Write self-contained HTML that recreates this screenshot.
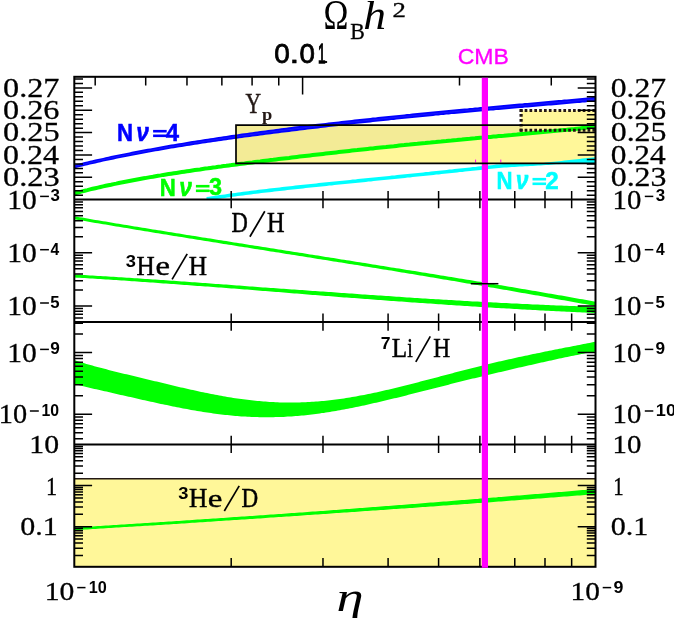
<!DOCTYPE html>
<html><head><meta charset="utf-8"><title>BBN abundances</title>
<style>html,body{margin:0;padding:0;background:#fff}body{width:674px;height:618px;overflow:hidden;font-family:"Liberation Sans",sans-serif}</style>
</head><body>
<svg width="674" height="618" viewBox="0 0 674 618" style="display:block;will-change:transform">
<rect x="0" y="0" width="674" height="618" fill="#fff"/>
<rect x="236.0" y="125.2" width="359.5" height="38.10000000000001" fill="#fff799"/>
<polygon points="236.0,125.2 236.0,164.5 236.7,164.4 239.3,164.0 241.9,163.7 244.5,163.4 247.2,163.0 249.8,162.7 252.4,162.4 255.0,162.0 257.6,161.7 260.3,161.4 262.9,161.0 265.5,160.7 268.1,160.4 270.7,160.1 273.4,159.8 276.0,159.4 278.6,159.1 281.2,158.8 283.8,158.5 286.4,158.2 289.1,157.9 291.7,157.5 294.3,157.2 296.9,156.9 299.5,156.6 302.2,156.3 304.8,156.0 307.4,155.7 310.0,155.4 312.6,155.1 315.3,154.8 317.9,154.5 320.5,154.2 323.1,153.9 325.7,153.6 328.4,153.3 331.0,153.0 333.6,152.7 336.2,152.4 338.8,152.1 341.4,151.8 344.1,151.5 346.7,151.2 349.3,150.9 351.9,150.6 354.5,150.3 357.2,150.1 359.8,149.8 362.4,149.5 365.0,149.2 367.6,148.9 370.3,148.6 372.9,148.4 375.5,148.1 378.1,147.8 380.7,147.5 383.4,147.2 386.0,147.0 388.6,146.7 391.2,146.4 393.8,146.2 396.4,145.9 399.1,145.6 401.7,145.3 404.3,145.1 406.9,144.8 409.5,144.6 412.2,144.3 414.8,144.0 417.4,143.8 420.0,143.5 422.6,143.2 425.3,143.0 427.9,142.7 430.5,142.5 433.1,142.2 435.7,142.0 438.4,141.7 441.0,141.5 443.6,141.2 446.2,141.0 448.8,140.7 451.4,140.5 454.1,140.2 456.7,140.0 459.3,139.7 461.9,139.5 464.5,139.2 467.2,139.0 469.8,138.8 472.4,138.5 475.0,138.3 477.6,138.0 480.3,137.8 482.9,137.6 485.5,137.3 488.1,137.1 490.7,136.9 493.4,136.6 496.0,136.4 498.6,136.1 501.2,135.9 503.8,135.7 506.5,135.4 509.1,135.2 511.7,135.0 514.3,134.7 516.9,134.5 519.5,134.2 522.2,134.0 524.8,133.8 527.4,133.5 530.0,133.3 532.6,133.1 535.3,132.8 537.9,132.6 540.5,132.3 543.1,132.1 545.7,131.8 548.4,131.6 551.0,131.3 553.6,131.1 556.2,130.8 558.8,130.6 561.5,130.3 564.1,130.0 566.7,129.8 569.3,129.5 571.9,129.2 574.5,129.0 577.2,128.7 579.8,128.4 582.4,128.1 585.0,127.8 587.6,127.5 590.3,127.3 592.9,127.0 595.5,126.6 595.5,125.2" fill="#f3eb96"/>
<rect x="521.3" y="110.5" width="74.20000000000005" height="19.5" fill="#fff799"/>
<rect x="74.3" y="478.8" width="521.2" height="87.99999999999994" fill="#fff799"/>
<polygon points="206.5,197.1 209.1,196.7 211.7,196.3 214.3,195.9 216.9,195.5 219.6,195.1 222.2,194.7 224.8,194.4 227.4,194.0 230.0,193.6 232.6,193.2 235.2,192.9 237.8,192.5 240.4,192.2 243.1,191.8 245.7,191.5 248.3,191.2 250.9,190.8 253.5,190.5 256.1,190.2 258.7,189.8 261.3,189.5 263.9,189.2 266.5,188.9 269.2,188.6 271.8,188.3 274.4,188.0 277.0,187.7 279.6,187.4 282.2,187.1 284.8,186.8 287.4,186.5 290.0,186.2 292.7,185.9 295.3,185.6 297.9,185.3 300.5,185.1 303.1,184.8 305.7,184.5 308.3,184.2 310.9,183.9 313.5,183.7 316.2,183.4 318.8,183.1 321.4,182.8 324.0,182.6 326.6,182.3 329.2,182.0 331.8,181.8 334.4,181.5 337.0,181.2 339.6,181.0 342.3,180.7 344.9,180.4 347.5,180.2 350.1,179.9 352.7,179.6 355.3,179.4 357.9,179.1 360.5,178.8 363.1,178.6 365.8,178.3 368.4,178.0 371.0,177.8 373.6,177.5 376.2,177.2 378.8,177.0 381.4,176.7 384.0,176.4 386.6,176.2 389.3,175.9 391.9,175.6 394.5,175.4 397.1,175.1 399.7,174.8 402.3,174.6 404.9,174.3 407.5,174.0 410.1,173.8 412.7,173.5 415.4,173.2 418.0,172.9 420.6,172.7 423.2,172.4 425.8,172.1 428.4,171.9 431.0,171.6 433.6,171.3 436.2,171.0 438.9,170.8 441.5,170.5 444.1,170.2 446.7,169.9 449.3,169.6 451.9,169.4 454.5,169.1 457.1,168.8 459.7,168.5 462.4,168.3 465.0,168.0 467.6,167.7 470.2,167.4 472.8,167.1 475.4,166.9 478.0,166.6 480.6,166.3 483.2,166.0 485.8,165.8 488.5,165.5 491.1,165.2 493.7,164.9 496.3,164.6 498.9,164.4 501.5,164.2 504.1,164.1 506.7,164.1 509.3,164.0 512.0,163.9 514.6,163.8 517.2,163.7 519.8,163.7 522.4,163.6 525.0,163.5 527.6,163.4 530.2,163.4 532.8,163.3 535.5,163.2 538.1,163.1 540.7,163.0 543.3,162.9 545.9,162.6 548.5,162.3 551.1,162.0 553.7,161.7 556.3,161.4 558.9,161.2 561.6,160.9 564.2,160.6 566.8,160.3 569.4,160.0 572.0,159.7 574.6,159.5 577.2,159.2 579.8,158.9 582.4,158.6 585.1,158.3 587.7,158.0 590.3,157.8 592.9,157.5 595.5,157.2 595.5,163.4 592.9,163.4 590.3,163.5 587.7,163.5 585.1,163.6 582.4,163.6 579.8,163.6 577.2,163.7 574.6,163.7 572.0,163.8 569.4,163.9 566.8,164.0 564.2,164.1 561.6,164.1 558.9,164.2 556.3,164.3 553.7,164.5 551.1,164.7 548.5,164.9 545.9,165.0 543.3,165.2 540.7,165.4 538.1,165.5 535.5,165.7 532.8,165.9 530.2,166.0 527.6,166.2 525.0,166.3 522.4,166.5 519.8,166.6 517.2,166.8 514.6,167.0 512.0,167.1 509.3,167.3 506.7,167.4 504.1,167.6 501.5,167.8 498.9,168.0 496.3,168.2 493.7,168.5 491.1,168.8 488.5,169.1 485.8,169.4 483.2,169.6 480.6,169.9 478.0,170.2 475.4,170.5 472.8,170.7 470.2,171.0 467.6,171.3 465.0,171.6 462.4,171.9 459.7,172.1 457.1,172.4 454.5,172.7 451.9,173.0 449.3,173.2 446.7,173.5 444.1,173.8 441.5,174.1 438.9,174.4 436.2,174.6 433.6,174.9 431.0,175.2 428.4,175.5 425.8,175.7 423.2,176.0 420.6,176.3 418.0,176.5 415.4,176.8 412.7,177.1 410.1,177.4 407.5,177.6 404.9,177.9 402.3,178.2 399.7,178.4 397.1,178.7 394.5,179.0 391.9,179.2 389.3,179.5 386.6,179.8 384.0,180.0 381.4,180.3 378.8,180.6 376.2,180.8 373.6,181.1 371.0,181.4 368.4,181.6 365.8,181.9 363.1,182.2 360.5,182.4 357.9,182.7 355.3,183.0 352.7,183.2 350.1,183.5 347.5,183.8 344.9,184.0 342.3,184.3 339.6,184.6 337.0,184.8 334.4,185.1 331.8,185.4 329.2,185.6 326.6,185.9 324.0,186.2 321.4,186.4 318.8,186.7 316.2,187.0 313.5,187.3 310.9,187.5 308.3,187.8 305.7,188.1 303.1,188.4 300.5,188.7 297.9,188.9 295.3,189.2 292.7,189.5 290.0,189.8 287.4,190.1 284.8,190.4 282.2,190.7 279.6,191.0 277.0,191.3 274.4,191.6 271.8,191.9 269.2,192.2 266.5,192.5 263.9,192.8 261.3,193.1 258.7,193.4 256.1,193.8 253.5,194.1 250.9,194.4 248.3,194.8 245.7,195.1 243.1,195.4 240.4,195.8 237.8,196.1 235.2,196.5 232.6,196.8 230.0,197.2 227.4,197.6 224.8,198.0 222.2,198.3 219.6,198.7 216.9,199.1 214.3,199.5 211.7,199.6 209.1,199.6 206.5,199.6" fill="#00ffff"/>
<path d="M74.3,193.5 L76.9,192.8 L79.5,192.1 L82.2,191.4 L84.8,190.7 L87.4,190.1 L90.0,189.4 L92.6,188.8 L95.3,188.2 L97.9,187.6 L100.5,187.0 L103.1,186.4 L105.7,185.8 L108.3,185.2 L111.0,184.7 L113.6,184.1 L116.2,183.6 L118.8,183.0 L121.4,182.5 L124.1,182.0 L126.7,181.5 L129.3,181.0 L131.9,180.5 L134.5,180.0 L137.2,179.5 L139.8,179.0 L142.4,178.5 L145.0,178.1 L147.6,177.6 L150.3,177.1 L152.9,176.7 L155.5,176.2 L158.1,175.8 L160.7,175.4 L163.3,174.9 L166.0,174.5 L168.6,174.1 L171.2,173.7 L173.8,173.3 L176.4,172.9 L179.1,172.5 L181.7,172.1 L184.3,171.7 L186.9,171.3 L189.5,170.9 L192.2,170.5 L194.8,170.1 L197.4,169.7 L200.0,169.4 L202.6,169.0 L205.3,168.6 L207.9,168.3 L210.5,167.9 L213.1,167.5 L215.7,167.2 L218.4,166.8 L221.0,166.5 L223.6,166.1 L226.2,165.8 L228.8,165.4 L231.4,165.1 L234.1,164.7 L236.7,164.4 L239.3,164.0 L241.9,163.7 L244.5,163.4 L247.2,163.0 L249.8,162.7 L252.4,162.4 L255.0,162.0 L257.6,161.7 L260.3,161.4 L262.9,161.0 L265.5,160.7 L268.1,160.4 L270.7,160.1 L273.4,159.8 L276.0,159.4 L278.6,159.1 L281.2,158.8 L283.8,158.5 L286.4,158.2 L289.1,157.9 L291.7,157.5 L294.3,157.2 L296.9,156.9 L299.5,156.6 L302.2,156.3 L304.8,156.0 L307.4,155.7 L310.0,155.4 L312.6,155.1 L315.3,154.8 L317.9,154.5 L320.5,154.2 L323.1,153.9 L325.7,153.6 L328.4,153.3 L331.0,153.0 L333.6,152.7 L336.2,152.4 L338.8,152.1 L341.4,151.8 L344.1,151.5 L346.7,151.2 L349.3,150.9 L351.9,150.6 L354.5,150.3 L357.2,150.1 L359.8,149.8 L362.4,149.5 L365.0,149.2 L367.6,148.9 L370.3,148.6 L372.9,148.4 L375.5,148.1 L378.1,147.8 L380.7,147.5 L383.4,147.2 L386.0,147.0 L388.6,146.7 L391.2,146.4 L393.8,146.2 L396.4,145.9 L399.1,145.6 L401.7,145.3 L404.3,145.1 L406.9,144.8 L409.5,144.6 L412.2,144.3 L414.8,144.0 L417.4,143.8 L420.0,143.5 L422.6,143.2 L425.3,143.0 L427.9,142.7 L430.5,142.5 L433.1,142.2 L435.7,142.0 L438.4,141.7 L441.0,141.5 L443.6,141.2 L446.2,141.0 L448.8,140.7 L451.4,140.5 L454.1,140.2 L456.7,140.0 L459.3,139.7 L461.9,139.5 L464.5,139.2 L467.2,139.0 L469.8,138.8 L472.4,138.5 L475.0,138.3 L477.6,138.0 L480.3,137.8 L482.9,137.6 L485.5,137.3 L488.1,137.1 L490.7,136.9 L493.4,136.6 L496.0,136.4 L498.6,136.1 L501.2,135.9 L503.8,135.7 L506.5,135.4 L509.1,135.2 L511.7,135.0 L514.3,134.7 L516.9,134.5 L519.5,134.2 L522.2,134.0 L524.8,133.8 L527.4,133.5 L530.0,133.3 L532.6,133.1 L535.3,132.8 L537.9,132.6 L540.5,132.3 L543.1,132.1 L545.7,131.8 L548.4,131.6 L551.0,131.3 L553.6,131.1 L556.2,130.8 L558.8,130.6 L561.5,130.3 L564.1,130.0 L566.7,129.8 L569.3,129.5 L571.9,129.2 L574.5,129.0 L577.2,128.7 L579.8,128.4 L582.4,128.1 L585.0,127.8 L587.6,127.5 L590.3,127.3 L592.9,127.0 L595.5,126.6" fill="none" stroke="#00ff00" stroke-width="4.0"/>
<polygon points="74.3,164.7 76.9,164.0 79.5,163.4 82.2,162.7 84.8,162.1 87.4,161.5 90.0,160.8 92.6,160.2 95.3,159.6 97.9,159.0 100.5,158.4 103.1,157.9 105.7,157.3 108.3,156.7 111.0,156.1 113.6,155.6 116.2,155.0 118.8,154.5 121.4,153.9 124.1,153.4 126.7,152.9 129.3,152.4 131.9,151.8 134.5,151.3 137.2,150.8 139.8,150.3 142.4,149.8 145.0,149.3 147.6,148.8 150.3,148.4 152.9,147.9 155.5,147.4 158.1,146.9 160.7,146.5 163.3,146.0 166.0,145.5 168.6,145.1 171.2,144.6 173.8,144.2 176.4,143.7 179.1,143.3 181.7,142.9 184.3,142.4 186.9,142.0 189.5,141.6 192.2,141.1 194.8,140.7 197.4,140.3 200.0,139.9 202.6,139.5 205.3,139.1 207.9,138.7 210.5,138.3 213.1,137.9 215.7,137.5 218.4,137.1 221.0,136.7 223.6,136.3 226.2,135.9 228.8,135.5 231.4,135.1 234.1,134.8 236.7,134.4 239.3,134.0 241.9,133.6 244.5,133.3 247.2,132.9 249.8,132.5 252.4,132.2 255.0,131.8 257.6,131.5 260.3,131.1 262.9,130.8 265.5,130.4 268.1,130.1 270.7,129.7 273.4,129.4 276.0,129.0 278.6,128.7 281.2,128.3 283.8,128.0 286.4,127.7 289.1,127.3 291.7,127.0 294.3,126.6 296.9,126.3 299.5,126.0 302.2,125.7 304.8,125.4 307.4,125.0 310.0,124.7 312.6,124.4 315.3,124.1 317.9,123.8 320.5,123.5 323.1,123.2 325.7,122.9 328.4,122.6 331.0,122.3 333.6,122.0 336.2,121.7 338.8,121.4 341.4,121.1 344.1,120.8 346.7,120.5 349.3,120.2 351.9,119.9 354.5,119.6 357.2,119.3 359.8,119.0 362.4,118.8 365.0,118.5 367.6,118.2 370.3,117.9 372.9,117.6 375.5,117.4 378.1,117.1 380.7,116.8 383.4,116.5 386.0,116.3 388.6,116.0 391.2,115.7 393.8,115.4 396.4,115.2 399.1,114.9 401.7,114.7 404.3,114.4 406.9,114.1 409.5,113.9 412.2,113.6 414.8,113.3 417.4,113.1 420.0,112.8 422.6,112.6 425.3,112.3 427.9,112.1 430.5,111.8 433.1,111.6 435.7,111.3 438.4,111.1 441.0,110.8 443.6,110.6 446.2,110.3 448.8,110.1 451.4,109.8 454.1,109.6 456.7,109.3 459.3,109.1 461.9,108.8 464.5,108.6 467.2,108.4 469.8,108.1 472.4,107.9 475.0,107.6 477.6,107.4 480.3,107.1 482.9,106.9 485.5,106.7 488.1,106.4 490.7,106.2 493.4,105.9 496.0,105.7 498.6,105.5 501.2,105.2 503.8,105.0 506.5,104.8 509.1,104.5 511.7,104.3 514.3,104.1 516.9,103.8 519.5,103.6 522.2,103.4 524.8,103.1 527.4,102.9 530.0,102.7 532.6,102.4 535.3,102.2 537.9,102.0 540.5,101.7 543.1,101.5 545.7,101.3 548.4,101.0 551.0,100.8 553.6,100.6 556.2,100.3 558.8,100.1 561.5,99.9 564.1,99.6 566.7,99.4 569.3,99.2 571.9,98.9 574.5,98.7 577.2,98.4 579.8,98.2 582.4,98.0 585.0,97.7 587.6,97.5 590.3,97.2 592.9,97.0 595.5,96.7 595.5,101.4 592.9,101.7 590.3,101.9 587.6,102.1 585.0,102.4 582.4,102.6 579.8,102.9 577.2,103.1 574.5,103.3 571.9,103.6 569.3,103.8 566.7,104.0 564.1,104.2 561.5,104.5 558.8,104.7 556.2,104.9 553.6,105.2 551.0,105.4 548.4,105.6 545.7,105.8 543.1,106.1 540.5,106.3 537.9,106.5 535.3,106.7 532.6,107.0 530.0,107.2 527.4,107.4 524.8,107.6 522.2,107.9 519.5,108.1 516.9,108.3 514.3,108.5 511.7,108.8 509.1,109.0 506.5,109.2 503.8,109.5 501.2,109.7 498.6,109.9 496.0,110.1 493.4,110.4 490.7,110.6 488.1,110.8 485.5,111.1 482.9,111.3 480.3,111.5 477.6,111.8 475.0,112.0 472.4,112.2 469.8,112.5 467.2,112.7 464.5,112.9 461.9,113.2 459.3,113.4 456.7,113.7 454.1,113.9 451.4,114.1 448.8,114.4 446.2,114.6 443.6,114.9 441.0,115.1 438.4,115.4 435.7,115.6 433.1,115.9 430.5,116.2 427.9,116.4 425.3,116.7 422.6,116.9 420.0,117.2 417.4,117.5 414.8,117.7 412.2,118.0 409.5,118.2 406.9,118.5 404.3,118.8 401.7,119.0 399.1,119.3 396.4,119.6 393.8,119.9 391.2,120.1 388.6,120.4 386.0,120.7 383.4,121.0 380.7,121.2 378.1,121.5 375.5,121.8 372.9,122.1 370.3,122.4 367.6,122.7 365.0,122.9 362.4,123.2 359.8,123.5 357.2,123.8 354.5,124.1 351.9,124.4 349.3,124.7 346.7,125.0 344.1,125.3 341.4,125.6 338.8,125.9 336.2,126.2 333.6,126.5 331.0,126.8 328.4,127.1 325.7,127.4 323.1,127.7 320.5,128.0 317.9,128.4 315.3,128.7 312.6,129.0 310.0,129.3 307.4,129.6 304.8,129.9 302.2,130.3 299.5,130.6 296.9,130.9 294.3,131.2 291.7,131.5 289.1,131.9 286.4,132.2 283.8,132.5 281.2,132.8 278.6,133.2 276.0,133.5 273.4,133.8 270.7,134.2 268.1,134.5 265.5,134.8 262.9,135.2 260.3,135.5 257.6,135.9 255.0,136.2 252.4,136.6 249.8,136.9 247.2,137.3 244.5,137.6 241.9,138.0 239.3,138.3 236.7,138.7 234.1,139.1 231.4,139.4 228.8,139.8 226.2,140.2 223.6,140.5 221.0,140.9 218.4,141.3 215.7,141.7 213.1,142.1 210.5,142.4 207.9,142.8 205.3,143.2 202.6,143.6 200.0,144.0 197.4,144.4 194.8,144.8 192.2,145.2 189.5,145.7 186.9,146.1 184.3,146.5 181.7,146.9 179.1,147.3 176.4,147.8 173.8,148.2 171.2,148.6 168.6,149.1 166.0,149.5 163.3,150.0 160.7,150.4 158.1,150.9 155.5,151.3 152.9,151.8 150.3,152.3 147.6,152.7 145.0,153.2 142.4,153.7 139.8,154.2 137.2,154.7 134.5,155.2 131.9,155.7 129.3,156.2 126.7,156.7 124.1,157.2 121.4,157.8 118.8,158.3 116.2,158.8 113.6,159.4 111.0,159.9 108.3,160.5 105.7,161.1 103.1,161.6 100.5,162.2 97.9,162.8 95.3,163.4 92.6,164.0 90.0,164.6 87.4,165.2 84.8,165.8 82.2,166.5 79.5,167.1 76.9,167.7 74.3,168.4" fill="#0000ff"/>
<path d="M74.3,166.5 L76.9,165.9 L79.5,165.2 L82.2,164.6 L84.8,164.0 L87.4,163.3 L90.0,162.7 L92.6,162.1 L95.3,161.5 L97.9,160.9 L100.5,160.3 L103.1,159.7 L105.7,159.2 L108.3,158.6 L111.0,158.0 L113.6,157.5 L116.2,156.9 L118.8,156.4 L121.4,155.9 L124.1,155.3 L126.7,154.8 L129.3,154.3 L131.9,153.8 L134.5,153.3 L137.2,152.8 L139.8,152.3 L142.4,151.8 L145.0,151.3 L147.6,150.8 L150.3,150.3 L152.9,149.8 L155.5,149.4 L158.1,148.9 L160.7,148.4 L163.3,148.0 L166.0,147.5 L168.6,147.1 L171.2,146.6 L173.8,146.2 L176.4,145.7 L179.1,145.3 L181.7,144.9 L184.3,144.5 L186.9,144.0 L189.5,143.6 L192.2,143.2 L194.8,142.8 L197.4,142.4 L200.0,142.0 L202.6,141.6 L205.3,141.2 L207.9,140.8 L210.5,140.4 L213.1,140.0 L215.7,139.6 L218.4,139.2 L221.0,138.8 L223.6,138.4 L226.2,138.0 L228.8,137.7 L231.4,137.3 L234.1,136.9 L236.7,136.5 L239.3,136.2 L241.9,135.8 L244.5,135.5 L247.2,135.1 L249.8,134.7 L252.4,134.4 L255.0,134.0 L257.6,133.7 L260.3,133.3 L262.9,133.0 L265.5,132.6 L268.1,132.3 L270.7,131.9 L273.4,131.6 L276.0,131.3 L278.6,130.9 L281.2,130.6 L283.8,130.3 L286.4,129.9 L289.1,129.6 L291.7,129.3 L294.3,128.9 L296.9,128.6 L299.5,128.3 L302.2,128.0 L304.8,127.6 L307.4,127.3 L310.0,127.0 L312.6,126.7 L315.3,126.4 L317.9,126.1 L320.5,125.8 L323.1,125.5 L325.7,125.1 L328.4,124.8 L331.0,124.5 L333.6,124.2 L336.2,123.9 L338.8,123.6 L341.4,123.3 L344.1,123.0 L346.7,122.7 L349.3,122.4 L351.9,122.2 L354.5,121.9 L357.2,121.6 L359.8,121.3 L362.4,121.0 L365.0,120.7 L367.6,120.4 L370.3,120.1 L372.9,119.9 L375.5,119.6 L378.1,119.3 L380.7,119.0 L383.4,118.7 L386.0,118.5 L388.6,118.2 L391.2,117.9 L393.8,117.7 L396.4,117.4 L399.1,117.1 L401.7,116.8 L404.3,116.6 L406.9,116.3 L409.5,116.1 L412.2,115.8 L414.8,115.5 L417.4,115.3 L420.0,115.0 L422.6,114.7 L425.3,114.5 L427.9,114.2 L430.5,114.0 L433.1,113.7 L435.7,113.5 L438.4,113.2 L441.0,113.0 L443.6,112.7 L446.2,112.5 L448.8,112.2 L451.4,112.0 L454.1,111.7 L456.7,111.5 L459.3,111.2 L461.9,111.0 L464.5,110.8 L467.2,110.5 L469.8,110.3 L472.4,110.0 L475.0,109.8 L477.6,109.6 L480.3,109.3 L482.9,109.1 L485.5,108.9 L488.1,108.6 L490.7,108.4 L493.4,108.2 L496.0,107.9 L498.6,107.7 L501.2,107.5 L503.8,107.2 L506.5,107.0 L509.1,106.8 L511.7,106.5 L514.3,106.3 L516.9,106.1 L519.5,105.9 L522.2,105.6 L524.8,105.4 L527.4,105.2 L530.0,104.9 L532.6,104.7 L535.3,104.5 L537.9,104.2 L540.5,104.0 L543.1,103.8 L545.7,103.6 L548.4,103.3 L551.0,103.1 L553.6,102.9 L556.2,102.6 L558.8,102.4 L561.5,102.2 L564.1,101.9 L566.7,101.7 L569.3,101.5 L571.9,101.2 L574.5,101.0 L577.2,100.8 L579.8,100.5 L582.4,100.3 L585.0,100.0 L587.6,99.8 L590.3,99.6 L592.9,99.3 L595.5,99.1" fill="none" stroke="#3030ff" stroke-width="0.5"/>
<polygon points="74.3,216.3 76.9,216.7 79.5,217.2 82.2,217.6 84.8,218.1 87.4,218.5 90.0,219.0 92.6,219.4 95.3,219.9 97.9,220.3 100.5,220.7 103.1,221.2 105.7,221.6 108.3,222.0 111.0,222.5 113.6,222.9 116.2,223.4 118.8,223.8 121.4,224.2 124.1,224.7 126.7,225.1 129.3,225.5 131.9,226.0 134.5,226.4 137.2,226.8 139.8,227.2 142.4,227.7 145.0,228.1 147.6,228.5 150.3,228.9 152.9,229.4 155.5,229.8 158.1,230.2 160.7,230.6 163.3,231.1 166.0,231.5 168.6,231.9 171.2,232.3 173.8,232.8 176.4,233.2 179.1,233.6 181.7,234.0 184.3,234.4 186.9,234.9 189.5,235.3 192.2,235.7 194.8,236.1 197.4,236.5 200.0,237.0 202.6,237.4 205.3,237.8 207.9,238.2 210.5,238.6 213.1,239.0 215.7,239.5 218.4,239.9 221.0,240.3 223.6,240.7 226.2,241.1 228.8,241.5 231.4,242.0 234.1,242.4 236.7,242.8 239.3,243.2 241.9,243.6 244.5,244.0 247.2,244.4 249.8,244.9 252.4,245.3 255.0,245.7 257.6,246.1 260.3,246.5 262.9,246.9 265.5,247.3 268.1,247.8 270.7,248.2 273.4,248.6 276.0,249.0 278.6,249.4 281.2,249.8 283.8,250.2 286.4,250.7 289.1,251.1 291.7,251.5 294.3,251.9 296.9,252.3 299.5,252.7 302.2,253.1 304.8,253.6 307.4,254.0 310.0,254.4 312.6,254.8 315.3,255.2 317.9,255.6 320.5,256.0 323.1,256.5 325.7,256.9 328.4,257.3 331.0,257.7 333.6,258.1 336.2,258.5 338.8,259.0 341.4,259.4 344.1,259.8 346.7,260.2 349.3,260.6 351.9,261.0 354.5,261.5 357.2,261.9 359.8,262.3 362.4,262.7 365.0,263.1 367.6,263.6 370.3,264.0 372.9,264.4 375.5,264.8 378.1,265.2 380.7,265.7 383.4,266.1 386.0,266.5 388.6,266.9 391.2,267.4 393.8,267.8 396.4,268.2 399.1,268.6 401.7,269.0 404.3,269.5 406.9,269.9 409.5,270.3 412.2,270.7 414.8,271.1 417.4,271.6 420.0,272.0 422.6,272.4 425.3,272.8 427.9,273.3 430.5,273.7 433.1,274.1 435.7,274.5 438.4,275.0 441.0,275.4 443.6,275.8 446.2,276.2 448.8,276.7 451.4,277.1 454.1,277.5 456.7,277.9 459.3,278.4 461.9,278.8 464.5,279.2 467.2,279.7 469.8,280.1 472.4,280.5 475.0,281.0 477.6,281.4 480.3,281.8 482.9,282.3 485.5,282.7 488.1,283.1 490.7,283.6 493.4,284.0 496.0,284.5 498.6,284.9 501.2,285.3 503.8,285.8 506.5,286.2 509.1,286.7 511.7,287.1 514.3,287.5 516.9,288.0 519.5,288.4 522.2,288.9 524.8,289.3 527.4,289.8 530.0,290.2 532.6,290.7 535.3,291.1 537.9,291.6 540.5,292.0 543.1,292.5 545.7,292.9 548.4,293.4 551.0,293.8 553.6,294.3 556.2,294.7 558.8,295.2 561.5,295.6 564.1,296.1 566.7,296.6 569.3,297.0 571.9,297.5 574.5,297.9 577.2,298.4 579.8,298.9 582.4,299.3 585.0,299.8 587.6,300.3 590.3,300.7 592.9,301.2 595.5,301.7 595.5,306.1 592.9,305.6 590.3,305.1 587.6,304.6 585.0,304.1 582.4,303.7 579.8,303.2 577.2,302.7 574.5,302.2 571.9,301.7 569.3,301.3 566.7,300.8 564.1,300.3 561.5,299.9 558.8,299.4 556.2,298.9 553.6,298.4 551.0,298.0 548.4,297.5 545.7,297.0 543.1,296.6 540.5,296.1 537.9,295.6 535.3,295.2 532.6,294.7 530.0,294.3 527.4,293.8 524.8,293.3 522.2,292.9 519.5,292.4 516.9,292.0 514.3,291.5 511.7,291.0 509.1,290.6 506.5,290.1 503.8,289.7 501.2,289.2 498.6,288.8 496.0,288.3 493.4,287.8 490.7,287.4 488.1,286.9 485.5,286.5 482.9,286.0 480.3,285.6 477.6,285.1 475.0,284.7 472.4,284.2 469.8,283.8 467.2,283.4 464.5,282.9 461.9,282.5 459.3,282.0 456.7,281.6 454.1,281.1 451.4,280.7 448.8,280.2 446.2,279.8 443.6,279.4 441.0,278.9 438.4,278.5 435.7,278.0 433.1,277.6 430.5,277.2 427.9,276.7 425.3,276.3 422.6,275.8 420.0,275.4 417.4,275.0 414.8,274.5 412.2,274.1 409.5,273.7 406.9,273.2 404.3,272.8 401.7,272.4 399.1,271.9 396.4,271.5 393.8,271.1 391.2,270.6 388.6,270.2 386.0,269.8 383.4,269.4 380.7,268.9 378.1,268.5 375.5,268.1 372.9,267.7 370.3,267.3 367.6,266.8 365.0,266.4 362.4,266.0 359.8,265.6 357.2,265.1 354.5,264.7 351.9,264.3 349.3,263.9 346.7,263.5 344.1,263.0 341.4,262.6 338.8,262.2 336.2,261.8 333.6,261.4 331.0,260.9 328.4,260.5 325.7,260.1 323.1,259.7 320.5,259.3 317.9,258.9 315.3,258.4 312.6,258.0 310.0,257.6 307.4,257.2 304.8,256.8 302.2,256.3 299.5,255.9 296.9,255.5 294.3,255.1 291.7,254.7 289.1,254.3 286.4,253.9 283.8,253.4 281.2,253.0 278.6,252.6 276.0,252.2 273.4,251.8 270.7,251.4 268.1,250.9 265.5,250.5 262.9,250.1 260.3,249.7 257.6,249.3 255.0,248.9 252.4,248.4 249.8,248.0 247.2,247.6 244.5,247.2 241.9,246.8 239.3,246.4 236.7,245.9 234.1,245.5 231.4,245.1 228.8,244.7 226.2,244.3 223.6,243.9 221.0,243.4 218.4,243.0 215.7,242.6 213.1,242.2 210.5,241.8 207.9,241.3 205.3,240.9 202.6,240.5 200.0,240.1 197.4,239.7 194.8,239.2 192.2,238.8 189.5,238.4 186.9,238.0 184.3,237.5 181.7,237.1 179.1,236.7 176.4,236.3 173.8,235.9 171.2,235.4 168.6,235.0 166.0,234.6 163.3,234.2 160.7,233.7 158.1,233.3 155.5,232.9 152.9,232.4 150.3,232.0 147.6,231.6 145.0,231.2 142.4,230.7 139.8,230.3 137.2,229.9 134.5,229.4 131.9,229.0 129.3,228.6 126.7,228.1 124.1,227.7 121.4,227.3 118.8,226.8 116.2,226.4 113.6,226.0 111.0,225.5 108.3,225.1 105.7,224.6 103.1,224.2 100.5,223.8 97.9,223.3 95.3,222.9 92.6,222.4 90.0,222.0 87.4,221.5 84.8,221.1 82.2,220.6 79.5,220.2 76.9,219.7 74.3,219.3" fill="#00ff00"/>
<polygon points="74.3,274.5 76.9,274.7 79.5,274.8 82.2,275.0 84.8,275.1 87.4,275.3 90.0,275.4 92.6,275.6 95.3,275.7 97.9,275.9 100.5,276.0 103.1,276.2 105.7,276.3 108.3,276.5 111.0,276.7 113.6,276.8 116.2,277.0 118.8,277.2 121.4,277.3 124.1,277.5 126.7,277.7 129.3,277.8 131.9,278.0 134.5,278.2 137.2,278.3 139.8,278.5 142.4,278.7 145.0,278.9 147.6,279.0 150.3,279.2 152.9,279.4 155.5,279.6 158.1,279.8 160.7,279.9 163.3,280.1 166.0,280.3 168.6,280.5 171.2,280.7 173.8,280.8 176.4,281.0 179.1,281.2 181.7,281.4 184.3,281.6 186.9,281.8 189.5,282.0 192.2,282.2 194.8,282.3 197.4,282.5 200.0,282.7 202.6,282.9 205.3,283.1 207.9,283.3 210.5,283.5 213.1,283.7 215.7,283.9 218.4,284.1 221.0,284.2 223.6,284.4 226.2,284.6 228.8,284.8 231.4,285.0 234.1,285.2 236.7,285.4 239.3,285.6 241.9,285.8 244.5,286.0 247.2,286.2 249.8,286.4 252.4,286.6 255.0,286.8 257.6,287.0 260.3,287.2 262.9,287.4 265.5,287.6 268.1,287.7 270.7,287.9 273.4,288.1 276.0,288.3 278.6,288.5 281.2,288.7 283.8,288.8 286.4,289.0 289.1,289.2 291.7,289.4 294.3,289.6 296.9,289.8 299.5,290.0 302.2,290.1 304.8,290.3 307.4,290.5 310.0,290.7 312.6,290.9 315.3,291.1 317.9,291.2 320.5,291.4 323.1,291.6 325.7,291.8 328.4,292.0 331.0,292.1 333.6,292.3 336.2,292.5 338.8,292.7 341.4,292.9 344.1,293.1 346.7,293.3 349.3,293.4 351.9,293.6 354.5,293.8 357.2,294.0 359.8,294.2 362.4,294.4 365.0,294.5 367.6,294.7 370.3,294.9 372.9,295.1 375.5,295.3 378.1,295.4 380.7,295.6 383.4,295.8 386.0,296.0 388.6,296.1 391.2,296.3 393.8,296.5 396.4,296.7 399.1,296.8 401.7,297.0 404.3,297.2 406.9,297.4 409.5,297.5 412.2,297.7 414.8,297.9 417.4,298.0 420.0,298.2 422.6,298.4 425.3,298.5 427.9,298.7 430.5,298.9 433.1,299.0 435.7,299.2 438.4,299.3 441.0,299.5 443.6,299.7 446.2,299.8 448.8,300.0 451.4,300.1 454.1,300.3 456.7,300.4 459.3,300.6 461.9,300.8 464.5,300.9 467.2,301.1 469.8,301.2 472.4,301.4 475.0,301.5 477.6,301.6 480.3,301.8 482.9,301.9 485.5,302.1 488.1,302.2 490.7,302.3 493.4,302.5 496.0,302.6 498.6,302.7 501.2,302.9 503.8,303.0 506.5,303.1 509.1,303.3 511.7,303.4 514.3,303.5 516.9,303.6 519.5,303.8 522.2,303.9 524.8,304.0 527.4,304.1 530.0,304.3 532.6,304.4 535.3,304.5 537.9,304.6 540.5,304.7 543.1,304.8 545.7,304.9 548.4,305.1 551.0,305.2 553.6,305.3 556.2,305.4 558.8,305.5 561.5,305.6 564.1,305.7 566.7,305.8 569.3,305.9 571.9,306.0 574.5,306.1 577.2,306.2 579.8,306.3 582.4,306.4 585.0,306.5 587.6,306.6 590.3,306.7 592.9,306.7 595.5,306.8 595.5,313.0 592.9,312.9 590.3,312.8 587.6,312.7 585.0,312.6 582.4,312.5 579.8,312.3 577.2,312.2 574.5,312.1 571.9,312.0 569.3,311.8 566.7,311.7 564.1,311.6 561.5,311.5 558.8,311.3 556.2,311.2 553.6,311.1 551.0,310.9 548.4,310.8 545.7,310.7 543.1,310.5 540.5,310.4 537.9,310.3 535.3,310.1 532.6,310.0 530.0,309.8 527.4,309.7 524.8,309.5 522.2,309.4 519.5,309.2 516.9,309.1 514.3,308.9 511.7,308.8 509.1,308.6 506.5,308.5 503.8,308.3 501.2,308.2 498.6,308.0 496.0,307.9 493.4,307.7 490.7,307.5 488.1,307.4 485.5,307.2 482.9,307.0 480.3,306.9 477.6,306.7 475.0,306.5 472.4,306.4 469.8,306.2 467.2,306.0 464.5,305.9 461.9,305.7 459.3,305.5 456.7,305.4 454.1,305.2 451.4,305.0 448.8,304.9 446.2,304.7 443.6,304.5 441.0,304.3 438.4,304.2 435.7,304.0 433.1,303.8 430.5,303.6 427.9,303.5 425.3,303.3 422.6,303.1 420.0,302.9 417.4,302.7 414.8,302.5 412.2,302.4 409.5,302.2 406.9,302.0 404.3,301.8 401.7,301.6 399.1,301.4 396.4,301.2 393.8,301.1 391.2,300.9 388.6,300.7 386.0,300.5 383.4,300.3 380.7,300.1 378.1,299.9 375.5,299.7 372.9,299.5 370.3,299.3 367.6,299.1 365.0,298.9 362.4,298.7 359.8,298.5 357.2,298.3 354.5,298.1 351.9,297.9 349.3,297.8 346.7,297.6 344.1,297.4 341.4,297.2 338.8,297.0 336.2,296.7 333.6,296.5 331.0,296.3 328.4,296.1 325.7,295.9 323.1,295.7 320.5,295.5 317.9,295.3 315.3,295.1 312.6,294.9 310.0,294.7 307.4,294.5 304.8,294.2 302.2,294.0 299.5,293.8 296.9,293.6 294.3,293.4 291.7,293.2 289.1,293.0 286.4,292.8 283.8,292.5 281.2,292.3 278.6,292.1 276.0,291.9 273.4,291.7 270.7,291.5 268.1,291.3 265.5,291.1 262.9,290.9 260.3,290.7 257.6,290.4 255.0,290.2 252.4,290.0 249.8,289.8 247.2,289.6 244.5,289.4 241.9,289.2 239.3,289.0 236.7,288.8 234.1,288.6 231.4,288.4 228.8,288.2 226.2,288.0 223.6,287.8 221.0,287.6 218.4,287.4 215.7,287.2 213.1,287.0 210.5,286.8 207.9,286.6 205.3,286.4 202.6,286.2 200.0,286.0 197.4,285.9 194.8,285.7 192.2,285.5 189.5,285.3 186.9,285.1 184.3,284.9 181.7,284.7 179.1,284.5 176.4,284.3 173.8,284.1 171.2,283.9 168.6,283.7 166.0,283.5 163.3,283.4 160.7,283.2 158.1,283.0 155.5,282.8 152.9,282.6 150.3,282.4 147.6,282.2 145.0,282.1 142.4,281.9 139.8,281.7 137.2,281.5 134.5,281.3 131.9,281.2 129.3,281.0 126.7,280.8 124.1,280.6 121.4,280.5 118.8,280.3 116.2,280.1 113.6,279.9 111.0,279.8 108.3,279.6 105.7,279.4 103.1,279.3 100.5,279.1 97.9,278.9 95.3,278.8 92.6,278.6 90.0,278.5 87.4,278.3 84.8,278.1 82.2,278.0 79.5,277.8 76.9,277.7 74.3,277.5" fill="#00ff00"/>
<polygon points="74.3,360.0 76.3,360.7 78.3,361.4 80.3,362.0 82.3,362.6 84.4,363.3 86.4,363.9 88.4,364.4 90.4,365.0 92.4,365.6 94.4,366.2 96.4,366.7 98.4,367.2 100.5,367.8 102.5,368.3 104.5,368.8 106.5,369.3 108.5,369.9 110.5,370.4 112.5,370.9 114.5,371.4 116.6,371.9 118.6,372.4 120.6,372.9 122.6,373.4 124.6,373.9 126.6,374.3 128.6,374.8 130.6,375.3 132.7,375.8 134.7,376.3 136.7,376.8 138.7,377.3 140.7,377.8 142.7,378.2 144.7,378.7 146.7,379.2 148.8,379.7 150.8,380.2 152.8,380.7 154.8,381.2 156.8,381.6 158.8,382.1 160.8,382.6 162.8,383.1 164.9,383.6 166.9,384.1 168.9,384.5 170.9,385.0 172.9,385.5 174.9,386.0 176.9,386.4 178.9,386.9 181.0,387.4 183.0,387.8 185.0,388.3 187.0,388.8 189.0,389.2 191.0,389.7 193.0,390.1 195.0,390.6 197.1,391.0 199.1,391.4 201.1,391.9 203.1,392.3 205.1,392.7 207.1,393.1 209.1,393.5 211.1,393.9 213.2,394.3 215.2,394.7 217.2,395.1 219.2,395.5 221.2,395.8 223.2,396.2 225.2,396.5 227.2,396.9 229.3,397.2 231.3,397.5 233.3,397.9 235.3,398.2 237.3,398.5 239.3,398.8 241.3,399.0 243.3,399.3 245.4,399.6 247.4,399.8 249.4,400.1 251.4,400.3 253.4,400.5 255.4,400.7 257.4,400.9 259.4,401.1 261.4,401.3 263.5,401.5 265.5,401.6 267.5,401.7 269.5,401.9 271.5,402.0 273.5,402.1 275.5,402.2 277.5,402.3 279.6,402.4 281.6,402.4 283.6,402.5 285.6,402.5 287.6,402.5 289.6,402.5 291.6,402.5 293.6,402.5 295.7,402.5 297.7,402.5 299.7,402.4 301.7,402.3 303.7,402.3 305.7,402.2 307.7,402.1 309.7,402.0 311.8,401.8 313.8,401.7 315.8,401.6 317.8,401.4 319.8,401.2 321.8,401.1 323.8,400.9 325.8,400.7 327.9,400.5 329.9,400.2 331.9,400.0 333.9,399.7 335.9,399.5 337.9,399.2 339.9,398.9 341.9,398.7 344.0,398.4 346.0,398.1 348.0,397.7 350.0,397.4 352.0,397.1 354.0,396.7 356.0,396.4 358.0,396.0 360.1,395.6 362.1,395.3 364.1,394.9 366.1,394.5 368.1,394.1 370.1,393.7 372.1,393.2 374.1,392.8 376.2,392.4 378.2,392.0 380.2,391.5 382.2,391.1 384.2,390.6 386.2,390.1 388.2,389.7 390.2,389.2 392.3,388.7 394.3,388.2 396.3,387.7 398.3,387.3 400.3,386.8 402.3,386.3 404.3,385.8 406.3,385.3 408.4,384.7 410.4,384.2 412.4,383.7 414.4,383.2 416.4,382.7 418.4,382.2 420.4,381.6 422.4,381.1 424.4,380.6 426.5,380.0 428.5,379.5 430.5,379.0 432.5,378.5 434.5,377.9 436.5,377.4 438.5,376.9 440.5,376.3 442.6,375.8 444.6,375.3 446.6,374.7 448.6,374.2 450.6,373.7 452.6,373.2 454.6,372.6 456.6,372.1 458.7,371.6 460.7,371.1 462.7,370.6 464.7,370.0 466.7,369.5 468.7,369.0 470.7,368.5 472.7,368.0 474.8,367.5 476.8,367.0 478.8,366.5 480.8,366.0 482.8,365.5 484.8,365.0 486.8,364.5 488.8,364.0 490.9,363.5 492.9,363.1 494.9,362.6 496.9,362.1 498.9,361.6 500.9,361.2 502.9,360.7 504.9,360.3 507.0,359.8 509.0,359.3 511.0,358.9 513.0,358.4 515.0,358.0 517.0,357.6 519.0,357.1 521.0,356.7 523.1,356.2 525.1,355.8 527.1,355.4 529.1,355.0 531.1,354.5 533.1,354.1 535.1,353.7 537.1,353.3 539.2,352.9 541.2,352.5 543.2,352.1 545.2,351.6 547.2,351.2 549.2,350.8 551.2,350.4 553.2,350.0 555.3,349.6 557.3,349.2 559.3,348.8 561.3,348.4 563.3,348.0 565.3,347.6 567.3,347.3 569.3,346.9 571.4,346.5 573.4,346.1 575.4,345.7 577.4,345.3 579.4,344.9 581.4,344.5 583.4,344.1 585.4,343.7 587.5,343.3 589.5,342.9 591.5,342.5 593.5,342.1 595.5,341.7 595.5,351.6 593.5,351.9 591.5,352.2 589.5,352.6 587.5,353.0 585.4,353.3 583.4,353.7 581.4,354.1 579.4,354.5 577.4,354.9 575.4,355.3 573.4,355.7 571.4,356.1 569.3,356.5 567.3,356.9 565.3,357.3 563.3,357.8 561.3,358.2 559.3,358.6 557.3,359.1 555.3,359.5 553.2,359.9 551.2,360.4 549.2,360.8 547.2,361.3 545.2,361.7 543.2,362.2 541.2,362.6 539.2,363.1 537.1,363.5 535.1,364.0 533.1,364.4 531.1,364.9 529.1,365.3 527.1,365.8 525.1,366.3 523.1,366.7 521.0,367.2 519.0,367.6 517.0,368.1 515.0,368.6 513.0,369.0 511.0,369.5 509.0,370.0 507.0,370.5 504.9,370.9 502.9,371.4 500.9,371.9 498.9,372.3 496.9,372.8 494.9,373.3 492.9,373.8 490.9,374.3 488.8,374.7 486.8,375.2 484.8,375.7 482.8,376.2 480.8,376.7 478.8,377.2 476.8,377.7 474.8,378.2 472.7,378.6 470.7,379.1 468.7,379.6 466.7,380.1 464.7,380.6 462.7,381.1 460.7,381.6 458.7,382.1 456.6,382.6 454.6,383.1 452.6,383.6 450.6,384.1 448.6,384.7 446.6,385.2 444.6,385.7 442.6,386.2 440.5,386.7 438.5,387.2 436.5,387.7 434.5,388.2 432.5,388.7 430.5,389.2 428.5,389.8 426.5,390.3 424.4,390.8 422.4,391.3 420.4,391.8 418.4,392.3 416.4,392.8 414.4,393.3 412.4,393.8 410.4,394.3 408.4,394.8 406.3,395.4 404.3,395.9 402.3,396.4 400.3,396.9 398.3,397.4 396.3,397.9 394.3,398.3 392.3,398.8 390.2,399.3 388.2,399.8 386.2,400.3 384.2,400.8 382.2,401.3 380.2,401.7 378.2,402.2 376.2,402.7 374.1,403.1 372.1,403.6 370.1,404.0 368.1,404.5 366.1,404.9 364.1,405.4 362.1,405.8 360.1,406.2 358.0,406.7 356.0,407.1 354.0,407.5 352.0,407.9 350.0,408.3 348.0,408.7 346.0,409.1 344.0,409.5 341.9,409.8 339.9,410.2 337.9,410.6 335.9,410.9 333.9,411.3 331.9,411.6 329.9,411.9 327.9,412.2 325.8,412.6 323.8,412.9 321.8,413.1 319.8,413.4 317.8,413.7 315.8,414.0 313.8,414.2 311.8,414.5 309.7,414.7 307.7,414.9 305.7,415.2 303.7,415.4 301.7,415.6 299.7,415.7 297.7,415.9 295.7,416.1 293.6,416.2 291.6,416.4 289.6,416.5 287.6,416.6 285.6,416.8 283.6,416.9 281.6,416.9 279.6,417.0 277.5,417.1 275.5,417.1 273.5,417.2 271.5,417.2 269.5,417.2 267.5,417.3 265.5,417.3 263.5,417.2 261.4,417.2 259.4,417.2 257.4,417.1 255.4,417.1 253.4,417.0 251.4,416.9 249.4,416.8 247.4,416.7 245.4,416.6 243.3,416.5 241.3,416.4 239.3,416.2 237.3,416.1 235.3,415.9 233.3,415.7 231.3,415.5 229.3,415.3 227.2,415.1 225.2,414.9 223.2,414.7 221.2,414.5 219.2,414.2 217.2,414.0 215.2,413.7 213.2,413.4 211.1,413.1 209.1,412.8 207.1,412.5 205.1,412.2 203.1,411.9 201.1,411.6 199.1,411.3 197.1,410.9 195.0,410.6 193.0,410.2 191.0,409.9 189.0,409.5 187.0,409.1 185.0,408.8 183.0,408.4 181.0,408.0 178.9,407.6 176.9,407.2 174.9,406.8 172.9,406.4 170.9,406.0 168.9,405.6 166.9,405.1 164.9,404.7 162.8,404.3 160.8,403.9 158.8,403.4 156.8,403.0 154.8,402.5 152.8,402.1 150.8,401.7 148.8,401.2 146.7,400.8 144.7,400.3 142.7,399.9 140.7,399.4 138.7,399.0 136.7,398.5 134.7,398.0 132.7,397.6 130.6,397.1 128.6,396.7 126.6,396.2 124.6,395.8 122.6,395.3 120.6,394.9 118.6,394.4 116.6,393.9 114.5,393.5 112.5,393.0 110.5,392.6 108.5,392.1 106.5,391.6 104.5,391.2 102.5,390.7 100.5,390.3 98.4,389.8 96.4,389.3 94.4,388.9 92.4,388.4 90.4,387.9 88.4,387.4 86.4,387.0 84.4,386.5 82.3,386.0 80.3,385.5 78.3,385.0 76.3,384.5 74.3,384.0" fill="#00ff00"/>
<polygon points="74.3,527.6 76.9,527.4 79.5,527.2 82.2,527.1 84.8,526.9 87.4,526.8 90.0,526.6 92.6,526.4 95.3,526.3 97.9,526.1 100.5,525.9 103.1,525.8 105.7,525.6 108.3,525.4 111.0,525.3 113.6,525.1 116.2,524.9 118.8,524.8 121.4,524.6 124.1,524.4 126.7,524.3 129.3,524.1 131.9,523.9 134.5,523.8 137.2,523.6 139.8,523.4 142.4,523.3 145.0,523.1 147.6,522.9 150.3,522.7 152.9,522.6 155.5,522.4 158.1,522.2 160.7,522.1 163.3,521.9 166.0,521.7 168.6,521.5 171.2,521.4 173.8,521.2 176.4,521.0 179.1,520.9 181.7,520.7 184.3,520.5 186.9,520.3 189.5,520.2 192.2,520.0 194.8,519.8 197.4,519.6 200.0,519.5 202.6,519.3 205.3,519.1 207.9,518.9 210.5,518.7 213.1,518.6 215.7,518.4 218.4,518.2 221.0,518.0 223.6,517.9 226.2,517.7 228.8,517.5 231.4,517.3 234.1,517.1 236.7,517.0 239.3,516.8 241.9,516.6 244.5,516.4 247.2,516.2 249.8,516.1 252.4,515.9 255.0,515.7 257.6,515.5 260.3,515.3 262.9,515.2 265.5,515.0 268.1,514.8 270.7,514.6 273.4,514.4 276.0,514.2 278.6,514.1 281.2,513.9 283.8,513.7 286.4,513.5 289.1,513.3 291.7,513.1 294.3,512.9 296.9,512.8 299.5,512.6 302.2,512.4 304.8,512.2 307.4,512.0 310.0,511.8 312.6,511.6 315.3,511.4 317.9,511.3 320.5,511.1 323.1,510.9 325.7,510.7 328.4,510.5 331.0,510.3 333.6,510.1 336.2,509.9 338.8,509.7 341.4,509.5 344.1,509.3 346.7,509.1 349.3,508.9 351.9,508.7 354.5,508.5 357.2,508.3 359.8,508.1 362.4,507.9 365.0,507.7 367.6,507.5 370.3,507.3 372.9,507.1 375.5,506.9 378.1,506.7 380.7,506.5 383.4,506.3 386.0,506.1 388.6,505.9 391.2,505.7 393.8,505.5 396.4,505.3 399.1,505.1 401.7,504.9 404.3,504.7 406.9,504.5 409.5,504.3 412.2,504.1 414.8,503.9 417.4,503.7 420.0,503.5 422.6,503.3 425.3,503.1 427.9,502.8 430.5,502.6 433.1,502.4 435.7,502.2 438.4,502.0 441.0,501.8 443.6,501.6 446.2,501.4 448.8,501.2 451.4,501.0 454.1,500.8 456.7,500.5 459.3,500.3 461.9,500.1 464.5,499.9 467.2,499.7 469.8,499.5 472.4,499.3 475.0,499.1 477.6,498.9 480.3,498.6 482.9,498.4 485.5,498.2 488.1,498.0 490.7,497.8 493.4,497.6 496.0,497.4 498.6,497.1 501.2,496.9 503.8,496.7 506.5,496.5 509.1,496.3 511.7,496.1 514.3,495.8 516.9,495.6 519.5,495.4 522.2,495.2 524.8,495.0 527.4,494.8 530.0,494.5 532.6,494.3 535.3,494.1 537.9,493.9 540.5,493.7 543.1,493.4 545.7,493.2 548.4,493.0 551.0,492.8 553.6,492.6 556.2,492.3 558.8,492.1 561.5,491.9 564.1,491.7 566.7,491.4 569.3,491.2 571.9,491.0 574.5,490.8 577.2,490.6 579.8,490.3 582.4,490.1 585.0,489.9 587.6,489.7 590.3,489.4 592.9,489.2 595.5,489.0 595.5,494.2 592.9,494.4 590.3,494.6 587.6,494.8 585.0,495.0 582.4,495.2 579.8,495.4 577.2,495.6 574.5,495.8 571.9,496.0 569.3,496.2 566.7,496.4 564.1,496.6 561.5,496.8 558.8,497.0 556.2,497.2 553.6,497.4 551.0,497.6 548.4,497.8 545.7,498.0 543.1,498.2 540.5,498.4 537.9,498.6 535.3,498.8 532.6,499.0 530.0,499.2 527.4,499.4 524.8,499.6 522.2,499.8 519.5,500.0 516.9,500.2 514.3,500.4 511.7,500.6 509.1,500.8 506.5,501.0 503.8,501.2 501.2,501.4 498.6,501.6 496.0,501.8 493.4,502.0 490.7,502.2 488.1,502.4 485.5,502.5 482.9,502.7 480.3,502.9 477.6,503.1 475.0,503.3 472.4,503.5 469.8,503.7 467.2,503.9 464.5,504.1 461.9,504.3 459.3,504.5 456.7,504.7 454.1,504.8 451.4,505.0 448.8,505.2 446.2,505.4 443.6,505.6 441.0,505.8 438.4,506.0 435.7,506.2 433.1,506.4 430.5,506.5 427.9,506.7 425.3,506.9 422.6,507.1 420.0,507.3 417.4,507.5 414.8,507.7 412.2,507.9 409.5,508.0 406.9,508.2 404.3,508.4 401.7,508.6 399.1,508.8 396.4,509.0 393.8,509.1 391.2,509.3 388.6,509.5 386.0,509.7 383.4,509.9 380.7,510.1 378.1,510.2 375.5,510.4 372.9,510.6 370.3,510.8 367.6,511.0 365.0,511.1 362.4,511.3 359.8,511.5 357.2,511.7 354.5,511.9 351.9,512.0 349.3,512.2 346.7,512.4 344.1,512.6 341.4,512.8 338.8,512.9 336.2,513.1 333.6,513.3 331.0,513.5 328.4,513.7 325.7,513.9 323.1,514.0 320.5,514.2 317.9,514.4 315.3,514.6 312.6,514.8 310.0,515.0 307.4,515.1 304.8,515.3 302.2,515.5 299.5,515.7 296.9,515.9 294.3,516.0 291.7,516.2 289.1,516.4 286.4,516.6 283.8,516.8 281.2,516.9 278.6,517.1 276.0,517.3 273.4,517.5 270.7,517.6 268.1,517.8 265.5,518.0 262.9,518.2 260.3,518.4 257.6,518.5 255.0,518.7 252.4,518.9 249.8,519.1 247.2,519.2 244.5,519.4 241.9,519.6 239.3,519.8 236.7,519.9 234.1,520.1 231.4,520.3 228.8,520.5 226.2,520.6 223.6,520.8 221.0,521.0 218.4,521.1 215.7,521.3 213.1,521.5 210.5,521.7 207.9,521.8 205.3,522.0 202.6,522.2 200.0,522.3 197.4,522.5 194.8,522.7 192.2,522.8 189.5,523.0 186.9,523.2 184.3,523.4 181.7,523.5 179.1,523.7 176.4,523.9 173.8,524.0 171.2,524.2 168.6,524.4 166.0,524.5 163.3,524.7 160.7,524.9 158.1,525.0 155.5,525.2 152.9,525.4 150.3,525.5 147.6,525.7 145.0,525.8 142.4,526.0 139.8,526.2 137.2,526.3 134.5,526.5 131.9,526.7 129.3,526.8 126.7,527.0 124.1,527.1 121.4,527.3 118.8,527.5 116.2,527.6 113.6,527.8 111.0,528.0 108.3,528.1 105.7,528.3 103.1,528.4 100.5,528.6 97.9,528.8 95.3,528.9 92.6,529.1 90.0,529.2 87.4,529.4 84.8,529.5 82.2,529.7 79.5,529.9 76.9,530.0 74.3,530.2" fill="#00ff00"/>
<line x1="475.6" y1="159.6" x2="475.6" y2="162.4" stroke="#ff00ff" stroke-width="1"/>
<line x1="500.8" y1="159.6" x2="500.8" y2="162.4" stroke="#ff00ff" stroke-width="1"/>
<line x1="519.8" y1="110.5" x2="595.5" y2="110.5" stroke="#231815" stroke-width="3.1" stroke-dasharray="2.7 2.14"/>
<line x1="519.8" y1="130.3" x2="595.5" y2="130.3" stroke="#231815" stroke-width="3.1" stroke-dasharray="2.7 2.14"/>
<line x1="521.0999999999999" y1="109.2" x2="521.0999999999999" y2="131.6" stroke="#231815" stroke-width="3.2" stroke-dasharray="2.7 2.2"/>
<line x1="74.3" y1="478.8" x2="595.5" y2="478.8" stroke="#231815" stroke-width="1.5"/>
<path d="M74.30,195.23H83.00M586.80,195.23H595.50M74.30,190.76H83.00M586.80,190.76H595.50M74.30,186.28H83.00M586.80,186.28H595.50M74.30,181.81H83.00M586.80,181.81H595.50M74.30,177.34H92.10M577.70,177.34H595.50M74.30,172.87H83.00M586.80,172.87H595.50M74.30,168.40H83.00M586.80,168.40H595.50M74.30,163.92H83.00M586.80,163.92H595.50M74.30,159.45H83.00M586.80,159.45H595.50M74.30,154.98H92.10M577.70,154.98H595.50M74.30,150.51H83.00M586.80,150.51H595.50M74.30,146.04H83.00M586.80,146.04H595.50M74.30,141.56H83.00M586.80,141.56H595.50M74.30,137.09H83.00M586.80,137.09H595.50M74.30,132.62H92.10M577.70,132.62H595.50M74.30,128.15H83.00M586.80,128.15H595.50M74.30,123.68H83.00M586.80,123.68H595.50M74.30,119.20H83.00M586.80,119.20H595.50M74.30,114.73H83.00M586.80,114.73H595.50M74.30,110.26H92.10M577.70,110.26H595.50M74.30,105.79H83.00M586.80,105.79H595.50M74.30,101.32H83.00M586.80,101.32H595.50M74.30,96.84H83.00M586.80,96.84H595.50M74.30,92.37H83.00M586.80,92.37H595.50M74.30,87.90H92.10M577.70,87.90H595.50M74.30,83.43H83.00M586.80,83.43H595.50M74.30,78.96H83.00M586.80,78.96H595.50M74.30,317.88H83.00M586.80,317.88H595.50M74.30,314.32H83.00M586.80,314.32H595.50M74.30,311.23H83.00M586.80,311.23H595.50M74.30,308.51H83.00M586.80,308.51H595.50M74.30,306.07H92.10M577.70,306.07H595.50M74.30,290.05H83.00M586.80,290.05H595.50M74.30,280.67H83.00M586.80,280.67H595.50M74.30,274.02H83.00M586.80,274.02H595.50M74.30,268.86H83.00M586.80,268.86H595.50M74.30,264.65H83.00M586.80,264.65H595.50M74.30,261.08H83.00M586.80,261.08H595.50M74.30,258.00H83.00M586.80,258.00H595.50M74.30,255.27H83.00M586.80,255.27H595.50M74.30,252.84H92.10M577.70,252.84H595.50M74.30,236.81H83.00M586.80,236.81H595.50M74.30,227.44H83.00M586.80,227.44H595.50M74.30,220.79H83.00M586.80,220.79H595.50M74.30,215.63H83.00M586.80,215.63H595.50M74.30,211.41H83.00M586.80,211.41H595.50M74.30,207.85H83.00M586.80,207.85H595.50M74.30,204.76H83.00M586.80,204.76H595.50M74.30,202.04H83.00M586.80,202.04H595.50M74.30,438.71H83.00M586.80,438.71H595.50M74.30,432.74H83.00M586.80,432.74H595.50M74.30,427.87H83.00M586.80,427.87H595.50M74.30,423.74H83.00M586.80,423.74H595.50M74.30,420.17H83.00M586.80,420.17H595.50M74.30,417.02H83.00M586.80,417.02H595.50M74.30,414.20H92.10M577.70,414.20H595.50M74.30,395.66H83.00M586.80,395.66H595.50M74.30,384.81H83.00M586.80,384.81H595.50M74.30,377.11H83.00M586.80,377.11H595.50M74.30,371.14H83.00M586.80,371.14H595.50M74.30,366.27H83.00M586.80,366.27H595.50M74.30,362.14H83.00M586.80,362.14H595.50M74.30,358.57H83.00M586.80,358.57H595.50M74.30,355.42H83.00M586.80,355.42H595.50M74.30,352.60H92.10M577.70,352.60H595.50M74.30,334.06H83.00M586.80,334.06H595.50M74.30,323.21H83.00M586.80,323.21H595.50M74.30,555.43H83.00M586.80,555.43H595.50M74.30,548.19H83.00M586.80,548.19H595.50M74.30,543.06H83.00M586.80,543.06H595.50M74.30,539.07H83.00M586.80,539.07H595.50M74.30,535.82H83.00M586.80,535.82H595.50M74.30,533.07H83.00M586.80,533.07H595.50M74.30,530.68H83.00M586.80,530.68H595.50M74.30,528.58H83.00M586.80,528.58H595.50M74.30,526.70H92.10M577.70,526.70H595.50M74.30,514.33H83.00M586.80,514.33H595.50M74.30,507.09H83.00M586.80,507.09H595.50M74.30,501.96H83.00M586.80,501.96H595.50M74.30,497.97H83.00M586.80,497.97H595.50M74.30,494.72H83.00M586.80,494.72H595.50M74.30,491.97H83.00M586.80,491.97H595.50M74.30,489.58H83.00M586.80,489.58H595.50M74.30,487.48H83.00M586.80,487.48H595.50M74.30,485.60H92.10M577.70,485.60H595.50M74.30,473.23H83.00M586.80,473.23H595.50M74.30,465.99H83.00M586.80,465.99H595.50M74.30,460.86H83.00M586.80,460.86H595.50M74.30,456.87H83.00M586.80,456.87H595.50M74.30,453.62H83.00M586.80,453.62H595.50M74.30,450.87H83.00M586.80,450.87H595.50M74.30,448.48H83.00M586.80,448.48H595.50M74.30,446.38H83.00M586.80,446.38H595.50M231.20,190.90V208.30M231.20,313.40V330.80M231.20,435.70V453.10M231.20,558.10V566.80M322.98,190.90V208.30M322.98,313.40V330.80M322.98,435.70V453.10M322.98,558.10V566.80M388.09,190.90V208.30M388.09,313.40V330.80M388.09,435.70V453.10M388.09,558.10V566.80M438.60,190.90V208.30M438.60,313.40V330.80M438.60,435.70V453.10M438.60,558.10V566.80M479.87,190.90V208.30M479.87,313.40V330.80M479.87,435.70V453.10M479.87,558.10V566.80M514.77,190.90V208.30M514.77,313.40V330.80M514.77,435.70V453.10M514.77,558.10V566.80M544.99,190.90V208.30M544.99,313.40V330.80M544.99,435.70V453.10M544.99,558.10V566.80M571.65,190.90V208.30M571.65,313.40V330.80M571.65,435.70V453.10M571.65,558.10V566.80M95.19,76.80V85.50M145.70,76.80V85.50M186.97,76.80V85.50M221.87,76.80V85.50M252.09,76.80V85.50M278.75,76.80V85.50M302.60,76.80V94.60M459.50,76.80V85.50M551.28,76.80V85.50" fill="none" stroke="#000" stroke-width="1.5"/>
<rect x="74.3" y="76.8" width="521.2" height="489.99999999999994" fill="none" stroke="#000" stroke-width="2.0"/>
<line x1="74.3" y1="199.6" x2="595.5" y2="199.6" stroke="#000" stroke-width="2.0"/>
<line x1="74.3" y1="322.1" x2="595.5" y2="322.1" stroke="#000" stroke-width="2.0"/>
<line x1="74.3" y1="444.4" x2="595.5" y2="444.4" stroke="#000" stroke-width="2.0"/>
<line x1="484.9" y1="77.8" x2="484.9" y2="567.8" stroke="#ff00ff" stroke-width="6.2"/>
<path d="M595.5,125.2 L236.0,125.2 L236.0,163.3 L595.5,163.3" fill="none" stroke="#000" stroke-width="1.7"/>
<line x1="470.8" y1="283.7" x2="498.4" y2="283.7" stroke="#000" stroke-width="1.5"/>
<text font-family="Liberation Serif, serif" font-size="100" fill="#000" transform="matrix(0.3226,0,0,0.2676,3.01,96.70)" stroke="#000" stroke-width="0.3" vector-effect="non-scaling-stroke">0.27</text>
<text font-family="Liberation Serif, serif" font-size="100" fill="#000" transform="matrix(0.3167,0,0,0.2676,610.73,96.70)" stroke="#000" stroke-width="0.3" vector-effect="non-scaling-stroke">0.27</text>
<text font-family="Liberation Serif, serif" font-size="100" fill="#000" transform="matrix(0.3226,0,0,0.2676,3.01,119.06)" stroke="#000" stroke-width="0.3" vector-effect="non-scaling-stroke">0.26</text>
<text font-family="Liberation Serif, serif" font-size="100" fill="#000" transform="matrix(0.3167,0,0,0.2676,610.73,119.06)" stroke="#000" stroke-width="0.3" vector-effect="non-scaling-stroke">0.26</text>
<text font-family="Liberation Serif, serif" font-size="100" fill="#000" transform="matrix(0.3246,0,0,0.2676,3.00,141.42)" stroke="#000" stroke-width="0.3" vector-effect="non-scaling-stroke">0.25</text>
<text font-family="Liberation Serif, serif" font-size="100" fill="#000" transform="matrix(0.3186,0,0,0.2676,610.73,141.42)" stroke="#000" stroke-width="0.3" vector-effect="non-scaling-stroke">0.25</text>
<text font-family="Liberation Serif, serif" font-size="100" fill="#000" transform="matrix(0.3198,0,0,0.2676,3.02,163.78)" stroke="#000" stroke-width="0.3" vector-effect="non-scaling-stroke">0.24</text>
<text font-family="Liberation Serif, serif" font-size="100" fill="#000" transform="matrix(0.3139,0,0,0.2676,610.74,163.78)" stroke="#000" stroke-width="0.3" vector-effect="non-scaling-stroke">0.24</text>
<text font-family="Liberation Serif, serif" font-size="100" fill="#000" transform="matrix(0.3246,0,0,0.2676,3.00,186.14)" stroke="#000" stroke-width="0.3" vector-effect="non-scaling-stroke">0.23</text>
<text font-family="Liberation Serif, serif" font-size="100" fill="#000" transform="matrix(0.3186,0,0,0.2676,610.73,186.14)" stroke="#000" stroke-width="0.3" vector-effect="non-scaling-stroke">0.23</text>
<text font-family="Liberation Serif, serif" font-size="100" fill="#000" transform="matrix(0.2960,0,0,0.2637,7.18,208.74)" stroke="#000" stroke-width="0.3" vector-effect="non-scaling-stroke">10</text>
<line x1="40.1" y1="196.4" x2="48.9" y2="196.4" stroke="#000" stroke-width="1.5"/>
<text font-family="Liberation Sans, sans-serif" font-size="100" font-weight="bold" fill="#000" transform="matrix(0.1689,0,0,0.1586,50.40,201.22)" >3</text>
<text font-family="Liberation Serif, serif" font-size="100" fill="#000" transform="matrix(0.2880,0,0,0.2637,612.55,208.74)" stroke="#000" stroke-width="0.3" vector-effect="non-scaling-stroke">10</text>
<line x1="644.8" y1="196.4" x2="653.3" y2="196.4" stroke="#000" stroke-width="1.5"/>
<text font-family="Liberation Sans, sans-serif" font-size="100" font-weight="bold" fill="#000" transform="matrix(0.1689,0,0,0.1586,655.70,201.22)" >3</text>
<text font-family="Liberation Serif, serif" font-size="100" fill="#000" transform="matrix(0.2960,0,0,0.2637,7.18,262.04)" stroke="#000" stroke-width="0.3" vector-effect="non-scaling-stroke">10</text>
<line x1="40.1" y1="249.7" x2="48.9" y2="249.7" stroke="#000" stroke-width="1.5"/>
<text font-family="Liberation Sans, sans-serif" font-size="100" font-weight="bold" fill="#000" transform="matrix(0.1563,0,0,0.1632,50.59,254.68)" >4</text>
<text font-family="Liberation Serif, serif" font-size="100" fill="#000" transform="matrix(0.2880,0,0,0.2637,612.55,262.04)" stroke="#000" stroke-width="0.3" vector-effect="non-scaling-stroke">10</text>
<line x1="644.8" y1="249.7" x2="653.3" y2="249.7" stroke="#000" stroke-width="1.5"/>
<text font-family="Liberation Sans, sans-serif" font-size="100" font-weight="bold" fill="#000" transform="matrix(0.1563,0,0,0.1632,655.89,254.68)" >4</text>
<text font-family="Liberation Serif, serif" font-size="100" fill="#000" transform="matrix(0.2960,0,0,0.2637,7.18,315.34)" stroke="#000" stroke-width="0.3" vector-effect="non-scaling-stroke">10</text>
<line x1="40.1" y1="303.0" x2="48.9" y2="303.0" stroke="#000" stroke-width="1.5"/>
<text font-family="Liberation Sans, sans-serif" font-size="100" font-weight="bold" fill="#000" transform="matrix(0.1672,0,0,0.1609,50.32,307.82)" >5</text>
<text font-family="Liberation Serif, serif" font-size="100" fill="#000" transform="matrix(0.2880,0,0,0.2637,612.55,315.34)" stroke="#000" stroke-width="0.3" vector-effect="non-scaling-stroke">10</text>
<line x1="644.8" y1="303.0" x2="653.3" y2="303.0" stroke="#000" stroke-width="1.5"/>
<text font-family="Liberation Sans, sans-serif" font-size="100" font-weight="bold" fill="#000" transform="matrix(0.1672,0,0,0.1609,655.62,307.82)" >5</text>
<text font-family="Liberation Serif, serif" font-size="100" fill="#000" transform="matrix(0.2960,0,0,0.2637,7.18,361.74)" stroke="#000" stroke-width="0.3" vector-effect="non-scaling-stroke">10</text>
<line x1="40.1" y1="349.4" x2="48.9" y2="349.4" stroke="#000" stroke-width="1.5"/>
<text font-family="Liberation Sans, sans-serif" font-size="100" font-weight="bold" fill="#000" transform="matrix(0.1724,0,0,0.1586,50.22,354.22)" >9</text>
<text font-family="Liberation Serif, serif" font-size="100" fill="#000" transform="matrix(0.2880,0,0,0.2637,612.55,361.74)" stroke="#000" stroke-width="0.3" vector-effect="non-scaling-stroke">10</text>
<line x1="644.8" y1="349.4" x2="653.3" y2="349.4" stroke="#000" stroke-width="1.5"/>
<text font-family="Liberation Sans, sans-serif" font-size="100" font-weight="bold" fill="#000" transform="matrix(0.1724,0,0,0.1586,655.52,354.22)" >9</text>
<text font-family="Liberation Serif, serif" font-size="100" fill="#000" transform="matrix(0.2834,0,0,0.2637,-1.21,423.34)" stroke="#000" stroke-width="0.3" vector-effect="non-scaling-stroke">10</text>
<line x1="29.9" y1="411.0" x2="38.8" y2="411.0" stroke="#000" stroke-width="1.5"/>
<text font-family="Liberation Sans, sans-serif" font-size="100" font-weight="bold" fill="#000" transform="matrix(0.1580,0,0,0.1586,41.57,415.82)" >10</text>
<text font-family="Liberation Serif, serif" font-size="100" fill="#000" transform="matrix(0.2880,0,0,0.2637,612.55,423.34)" stroke="#000" stroke-width="0.3" vector-effect="non-scaling-stroke">10</text>
<line x1="644.8" y1="411.0" x2="653.3" y2="411.0" stroke="#000" stroke-width="1.5"/>
<text font-family="Liberation Sans, sans-serif" font-size="100" font-weight="bold" fill="#000" transform="matrix(0.1818,0,0,0.1586,655.83,415.82)" >10</text>
<text font-family="Liberation Serif, serif" font-size="100" fill="#000" transform="matrix(0.2971,0,0,0.2622,29.37,453.24)" stroke="#000" stroke-width="0.3" vector-effect="non-scaling-stroke">10</text>
<text font-family="Liberation Serif, serif" font-size="100" fill="#000" transform="matrix(0.2880,0,0,0.2622,612.55,453.24)" stroke="#000" stroke-width="0.3" vector-effect="non-scaling-stroke">10</text>
<text font-family="Liberation Serif, serif" font-size="100" fill="#000" transform="matrix(0.2225,0,0,0.2606,46.11,494.90)" stroke="#000" stroke-width="0.3" vector-effect="non-scaling-stroke">1</text>
<text font-family="Liberation Serif, serif" font-size="100" fill="#000" transform="matrix(0.2085,0,0,0.2606,613.23,494.90)" stroke="#000" stroke-width="0.3" vector-effect="non-scaling-stroke">1</text>
<text font-family="Liberation Serif, serif" font-size="100" fill="#000" transform="matrix(0.3000,0,0,0.2618,20.20,535.21)" stroke="#000" stroke-width="0.3" vector-effect="non-scaling-stroke">0.1</text>
<text font-family="Liberation Serif, serif" font-size="100" fill="#000" transform="matrix(0.3009,0,0,0.2618,610.80,535.21)" stroke="#000" stroke-width="0.3" vector-effect="non-scaling-stroke">0.1</text>
<text font-family="Liberation Serif, serif" font-size="100" fill="#000" transform="matrix(0.2960,0,0,0.2607,44.78,600.34)" stroke="#000" stroke-width="0.3" vector-effect="non-scaling-stroke">10</text>
<line x1="77.2" y1="587.6" x2="85.5" y2="587.6" stroke="#000" stroke-width="1.5"/>
<text font-family="Liberation Sans, sans-serif" font-size="100" font-weight="bold" fill="#000" transform="matrix(0.1620,0,0,0.1614,88.75,592.72)" >10</text>
<text font-family="Liberation Serif, serif" font-size="100" fill="#000" transform="matrix(0.2937,0,0,0.2607,570.50,600.34)" stroke="#000" stroke-width="0.3" vector-effect="non-scaling-stroke">10</text>
<line x1="602.7" y1="587.6" x2="611.2" y2="587.6" stroke="#000" stroke-width="1.5"/>
<text font-family="Liberation Sans, sans-serif" font-size="100" font-weight="bold" fill="#000" transform="matrix(0.1786,0,0,0.1614,613.40,592.72)" >9</text>
<text font-family="Liberation Serif, serif" font-size="100" fill="#000" transform="matrix(0.3353,0,0,0.4115,323.44,29.28)" >Ω</text>
<text font-family="Liberation Serif, serif" font-size="100" fill="#000" transform="matrix(0.2186,0,0,0.2227,350.24,39.49)" stroke="#000" stroke-width="0.3" vector-effect="non-scaling-stroke">B</text>
<text font-family="Liberation Serif, serif" font-size="100" font-style="italic" fill="#000" transform="matrix(0.4555,0,0,0.3908,363.23,29.28)" >h</text>
<text font-family="Liberation Serif, serif" font-size="100" fill="#000" transform="matrix(0.2675,0,0,0.2106,392.40,16.70)" stroke="#000" stroke-width="0.4" vector-effect="non-scaling-stroke">2</text>
<text font-family="Liberation Sans, sans-serif" font-size="100" fill="#000" transform="matrix(0.2792,0,0,0.2761,274.28,62.72)" stroke="#000" stroke-width="0.8" vector-effect="non-scaling-stroke">0</text>
<text font-family="Liberation Sans, sans-serif" font-size="100" fill="#000" transform="matrix(0.4000,0,0,0.2952,288.80,62.90)" stroke="#000" stroke-width="0.4" vector-effect="non-scaling-stroke">.</text>
<text font-family="Liberation Sans, sans-serif" font-size="100" fill="#000" transform="matrix(0.2771,0,0,0.2761,299.39,62.72)" stroke="#000" stroke-width="0.8" vector-effect="non-scaling-stroke">0</text>
<text font-family="Liberation Sans, sans-serif" font-size="100" fill="#000" transform="matrix(0.1356,0,0,0.2754,317.98,62.60)" stroke="#000" stroke-width="1.1" vector-effect="non-scaling-stroke">1</text>
<line x1="319.0" y1="62.0" x2="327.1" y2="62.0" stroke="#000" stroke-width="1.9"/>
<text font-family="Liberation Sans, sans-serif" font-size="100" fill="#ff00ff" transform="matrix(0.2307,0,0,0.2275,457.65,64.07)" stroke="#ff00ff" stroke-width="0.3" vector-effect="non-scaling-stroke">CMB</text>
<text font-family="Liberation Serif, serif" font-size="100" font-style="italic" fill="#000" transform="matrix(0.5443,0,0,0.3994,336.52,610.59)" >η</text>
<text font-family="Liberation Sans, sans-serif" font-size="100" font-weight="bold" fill="#0000ff" transform="matrix(0.2220,0,0,0.2464,117.06,140.50)" stroke="#0000ff" stroke-width="0.5" vector-effect="non-scaling-stroke">N</text>
<text font-family="Liberation Sans, sans-serif" font-size="100" font-weight="bold" font-style="italic" fill="#0000ff" transform="matrix(0.2283,0,0,0.2491,136.36,140.50)" stroke="#0000ff" stroke-width="0.5" vector-effect="non-scaling-stroke">ν</text>
<line x1="153.1" y1="131.2" x2="166.7" y2="131.2" stroke="#0000ff" stroke-width="2.6"/>
<line x1="153.1" y1="135.8" x2="166.7" y2="135.8" stroke="#0000ff" stroke-width="2.6"/>
<text font-family="Liberation Sans, sans-serif" font-size="100" font-weight="bold" fill="#0000ff" transform="matrix(0.2393,0,0,0.2464,165.84,140.50)" stroke="#0000ff" stroke-width="0.5" vector-effect="non-scaling-stroke">4</text>
<text font-family="Liberation Sans, sans-serif" font-size="100" font-weight="bold" fill="#00ff00" transform="matrix(0.2220,0,0,0.2464,159.86,195.50)" stroke="#00ff00" stroke-width="0.5" vector-effect="non-scaling-stroke">N</text>
<text font-family="Liberation Sans, sans-serif" font-size="100" font-weight="bold" font-style="italic" fill="#00ff00" transform="matrix(0.2283,0,0,0.2491,179.16,195.50)" stroke="#00ff00" stroke-width="0.5" vector-effect="non-scaling-stroke">ν</text>
<line x1="195.9" y1="186.2" x2="209.5" y2="186.2" stroke="#00ff00" stroke-width="2.6"/>
<line x1="195.9" y1="190.8" x2="209.5" y2="190.8" stroke="#00ff00" stroke-width="2.6"/>
<text font-family="Liberation Sans, sans-serif" font-size="100" font-weight="bold" fill="#00ff00" transform="matrix(0.2343,0,0,0.2394,208.91,195.26)" stroke="#00ff00" stroke-width="0.5" vector-effect="non-scaling-stroke">3</text>
<text font-family="Liberation Sans, sans-serif" font-size="100" font-weight="bold" fill="#00ffff" transform="matrix(0.2220,0,0,0.2464,496.46,188.50)" stroke="#00ffff" stroke-width="0.5" vector-effect="non-scaling-stroke">N</text>
<text font-family="Liberation Sans, sans-serif" font-size="100" font-weight="bold" font-style="italic" fill="#00ffff" transform="matrix(0.2283,0,0,0.2491,515.76,188.50)" stroke="#00ffff" stroke-width="0.5" vector-effect="non-scaling-stroke">ν</text>
<line x1="532.5" y1="179.2" x2="546.1" y2="179.2" stroke="#00ffff" stroke-width="2.6"/>
<line x1="532.5" y1="183.8" x2="546.1" y2="183.8" stroke="#00ffff" stroke-width="2.6"/>
<text font-family="Liberation Sans, sans-serif" font-size="100" font-weight="bold" fill="#00ffff" transform="matrix(0.2417,0,0,0.2429,545.25,188.50)" stroke="#00ffff" stroke-width="0.5" vector-effect="non-scaling-stroke">2</text>
<text font-family="Liberation Serif, serif" font-size="100" fill="#231815" transform="matrix(0.2161,0,0,0.2885,245.48,112.50)" stroke="#231815" stroke-width="0.45" vector-effect="non-scaling-stroke">Y</text>
<text font-family="Liberation Serif, serif" font-size="100" font-weight="bold" fill="#231815" transform="matrix(0.1853,0,0,0.1688,261.93,120.05)" >p</text>
<text font-family="Liberation Serif, serif" font-size="100" fill="#000" transform="matrix(0.2260,0,0,0.2855,231.42,232.40)" stroke="#000" stroke-width="0.45" vector-effect="non-scaling-stroke">D</text>
<line x1="249.9" y1="236.7" x2="264.8" y2="211.3" stroke="#000" stroke-width="1.7"/>
<text font-family="Liberation Serif, serif" font-size="100" fill="#000" transform="matrix(0.2436,0,0,0.2855,267.07,232.40)" stroke="#000" stroke-width="0.45" vector-effect="non-scaling-stroke">H</text>
<text font-family="Liberation Sans, sans-serif" font-size="100" font-weight="bold" fill="#000" transform="matrix(0.1830,0,0,0.1713,125.86,267.31)" >3</text>
<text font-family="Liberation Serif, serif" font-size="100" fill="#000" transform="matrix(0.2526,0,0,0.2763,136.54,274.70)" stroke="#000" stroke-width="0.45" vector-effect="non-scaling-stroke">H</text>
<text font-family="Liberation Serif, serif" font-size="100" fill="#000" transform="matrix(0.3270,0,0,0.2625,155.49,274.84)" stroke="#000" stroke-width="0.45" vector-effect="non-scaling-stroke">e</text>
<line x1="172.1" y1="279.4" x2="187.2" y2="253.9" stroke="#000" stroke-width="1.7"/>
<text font-family="Liberation Serif, serif" font-size="100" fill="#000" transform="matrix(0.2526,0,0,0.2763,188.74,274.70)" stroke="#000" stroke-width="0.45" vector-effect="non-scaling-stroke">H</text>
<text font-family="Liberation Sans, sans-serif" font-size="100" font-weight="bold" fill="#000" transform="matrix(0.1760,0,0,0.1617,380.82,349.18)" >7</text>
<text font-family="Liberation Serif, serif" font-size="100" fill="#000" transform="matrix(0.2519,0,0,0.2733,391.64,357.10)" stroke="#000" stroke-width="0.45" vector-effect="non-scaling-stroke">L</text>
<text font-family="Liberation Serif, serif" font-size="100" fill="#000" transform="matrix(0.2000,0,0,0.2803,407.20,357.10)" stroke="#000" stroke-width="0.45" vector-effect="non-scaling-stroke">i</text>
<line x1="415.8" y1="361.9" x2="430.3" y2="336.4" stroke="#000" stroke-width="1.7"/>
<text font-family="Liberation Serif, serif" font-size="100" fill="#000" transform="matrix(0.2346,0,0,0.2733,433.30,357.10)" stroke="#000" stroke-width="0.45" vector-effect="non-scaling-stroke">H</text>
<text font-family="Liberation Sans, sans-serif" font-size="100" font-weight="bold" fill="#000" transform="matrix(0.1830,0,0,0.1713,178.26,499.31)" >3</text>
<text font-family="Liberation Serif, serif" font-size="100" fill="#000" transform="matrix(0.2541,0,0,0.2763,188.94,506.70)" stroke="#000" stroke-width="0.45" vector-effect="non-scaling-stroke">H</text>
<text font-family="Liberation Serif, serif" font-size="100" fill="#000" transform="matrix(0.3297,0,0,0.2625,207.68,506.84)" stroke="#000" stroke-width="0.45" vector-effect="non-scaling-stroke">e</text>
<line x1="224.3" y1="511.0" x2="239.2" y2="485.9" stroke="#000" stroke-width="1.7"/>
<text font-family="Liberation Serif, serif" font-size="100" fill="#000" transform="matrix(0.2305,0,0,0.2763,241.51,506.70)" stroke="#000" stroke-width="0.45" vector-effect="non-scaling-stroke">D</text>
</svg>
</body></html>
